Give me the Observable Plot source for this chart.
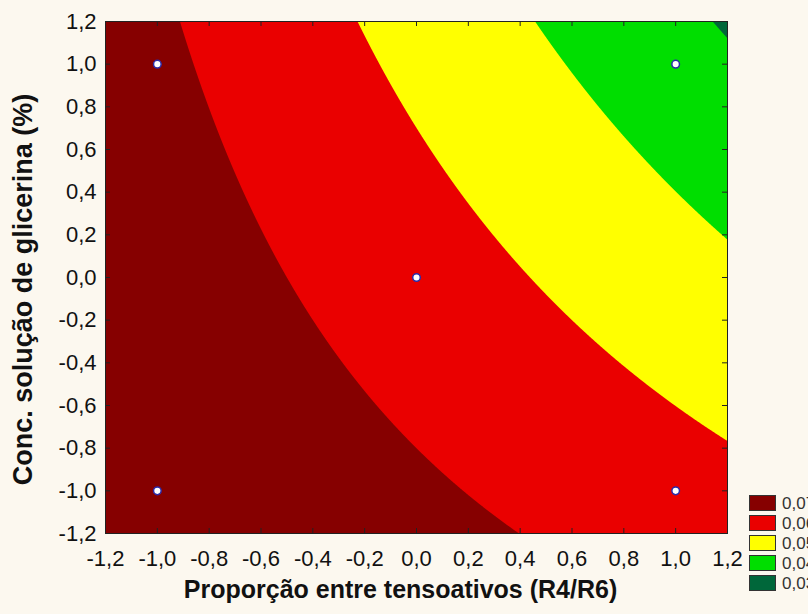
<!DOCTYPE html>
<html>
<head>
<meta charset="utf-8">
<script src="https://cdn.jsdelivr.net/npm/d3@7"></script>
<script src="https://cdn.jsdelivr.net/npm/@observablehq/plot@0.6"></script>
<style>
  html, body { margin: 0; padding: 0; background: #fcf8ef; overflow: hidden; }
  #chart { width: 808px; height: 614px; }
</style>
</head>
<body>
<div id="chart"></div>
<script>
// ---- data ----
const xTicks = [-1.2, -1.0, -0.8, -0.6, -0.4, -0.2, 0.0, 0.2, 0.4, 0.6, 0.8, 1.0, 1.2];
const yTicks = [-1.2, -1.0, -0.8, -0.6, -0.4, -0.2, 0.0, 0.2, 0.4, 0.6, 0.8, 1.0, 1.2];
const designX = [-1, -1, 0, 1, 1];
const designY = [1, -1, 0, 1, -1];
// fitted response surface z = b0 + b1*x + b2*y + b12*x*y
const coefNames = ["b0", "b1", "b2", "b12"];
const coefValues = [0.06467, -0.01066, -0.00666, -0.00328];
const levels = [0.03, 0.04, 0.05, 0.06, 0.07];
const levelColors = ["#00673a", "#00de00", "#ffff00", "#ea0000", "#860000"];
const legendLabels = ["0,07", "0,06", "0,05", "0,04", "0,03"];
const legendColors = ["#860000", "#ea0000", "#ffff00", "#00de00", "#00673a"];
const xLabel = "Proporção entre tensoativos (R4/R6)";
const yLabel = "Conc. solução de glicerina (%)";

// ---- chart ----
const coef = Object.fromEntries(coefNames.map((n, i) => [n, coefValues[i]]));
const surface = (x, y) => coef.b0 + coef.b1 * x + coef.b2 * y + coef.b12 * x * y;
const mids = levels.slice(1).map((v, i) => (v + levels[i]) / 2);
const points = designX.map((x, i) => ({x, y: designY[i]}));
const fmt = d => d.toFixed(1).replace(".", ",");
const font = "'Liberation Sans', Arial, sans-serif";

const W = 808, H = 614, mL = 105, mR = 81, mT = 21, mB = 81;
const pw = W - mL - mR, ph = H - mT - mB;

const plot = Plot.plot({
  width: W, height: H,
  marginLeft: mL, marginRight: mR, marginTop: mT, marginBottom: mB,
  style: {background: "transparent", fontFamily: font, color: "#111", overflow: "visible"},
  x: {domain: [-1.2, 1.2]},
  y: {domain: [-1.2, 1.2]},
  color: {type: "threshold", domain: mids, range: levelColors},
  marks: [
    Plot.contour({
      x1: -1.2, x2: 1.2, y1: -1.2, y2: 1.2,
      fill: surface, thresholds: levels, stroke: "none", pixelSize: 1
    }),
    Plot.frame({stroke: "#222", strokeWidth: 1}),
    Plot.tickX(xTicks, {x: d => d, insetTop: ph - 5, stroke: "#222"}),
    Plot.tickX(xTicks, {x: d => d, insetBottom: ph - 5, stroke: "#222"}),
    Plot.tickY(yTicks, {y: d => d, insetLeft: pw - 5, stroke: "#222"}),
    Plot.tickY(yTicks, {y: d => d, insetRight: pw - 5, stroke: "#222"}),
    Plot.axisX({ticks: xTicks, tickFormat: fmt, tickSize: 0, tickPadding: 17, fontSize: 22, label: null}),
    Plot.axisY({ticks: yTicks, tickFormat: fmt, tickSize: 0, tickPadding: 9, fontSize: 22, label: null}),
    Plot.dot(points, {x: "x", y: "y", r: 3.8, fill: "white", stroke: "#2b2ba8", strokeWidth: 1.5}),
    Plot.text([xLabel], {frameAnchor: "bottom", textAnchor: "middle", dx: -16, dy: 64, fontSize: 25, fontWeight: "bold", fill: "#111"}),
    Plot.text([yLabel], {frameAnchor: "left", textAnchor: "middle", rotate: -90, dx: -82, dy: 12, fontSize: 27, fontWeight: "bold", fill: "#111"})
  ]
});

document.getElementById("chart").appendChild(plot);

// legend (bottom right, clipped by page edge like the original)
const svg = d3.select(plot);
const lg = svg.append("g").attr("font-family", font).attr("text-anchor", "start");
legendLabels.forEach((lab, i) => {
  const y0 = 495 + i * 20;
  lg.append("rect").attr("x", 749.5).attr("y", y0 + 0.5).attr("width", 26).attr("height", 15)
    .attr("fill", legendColors[i]).attr("stroke", "#333").attr("stroke-width", 1);
  lg.append("text").attr("x", 782).attr("y", y0 + 13.5).attr("font-size", 17)
    .attr("fill", "#333").text(lab);
});
</script>
</body>
</html>
